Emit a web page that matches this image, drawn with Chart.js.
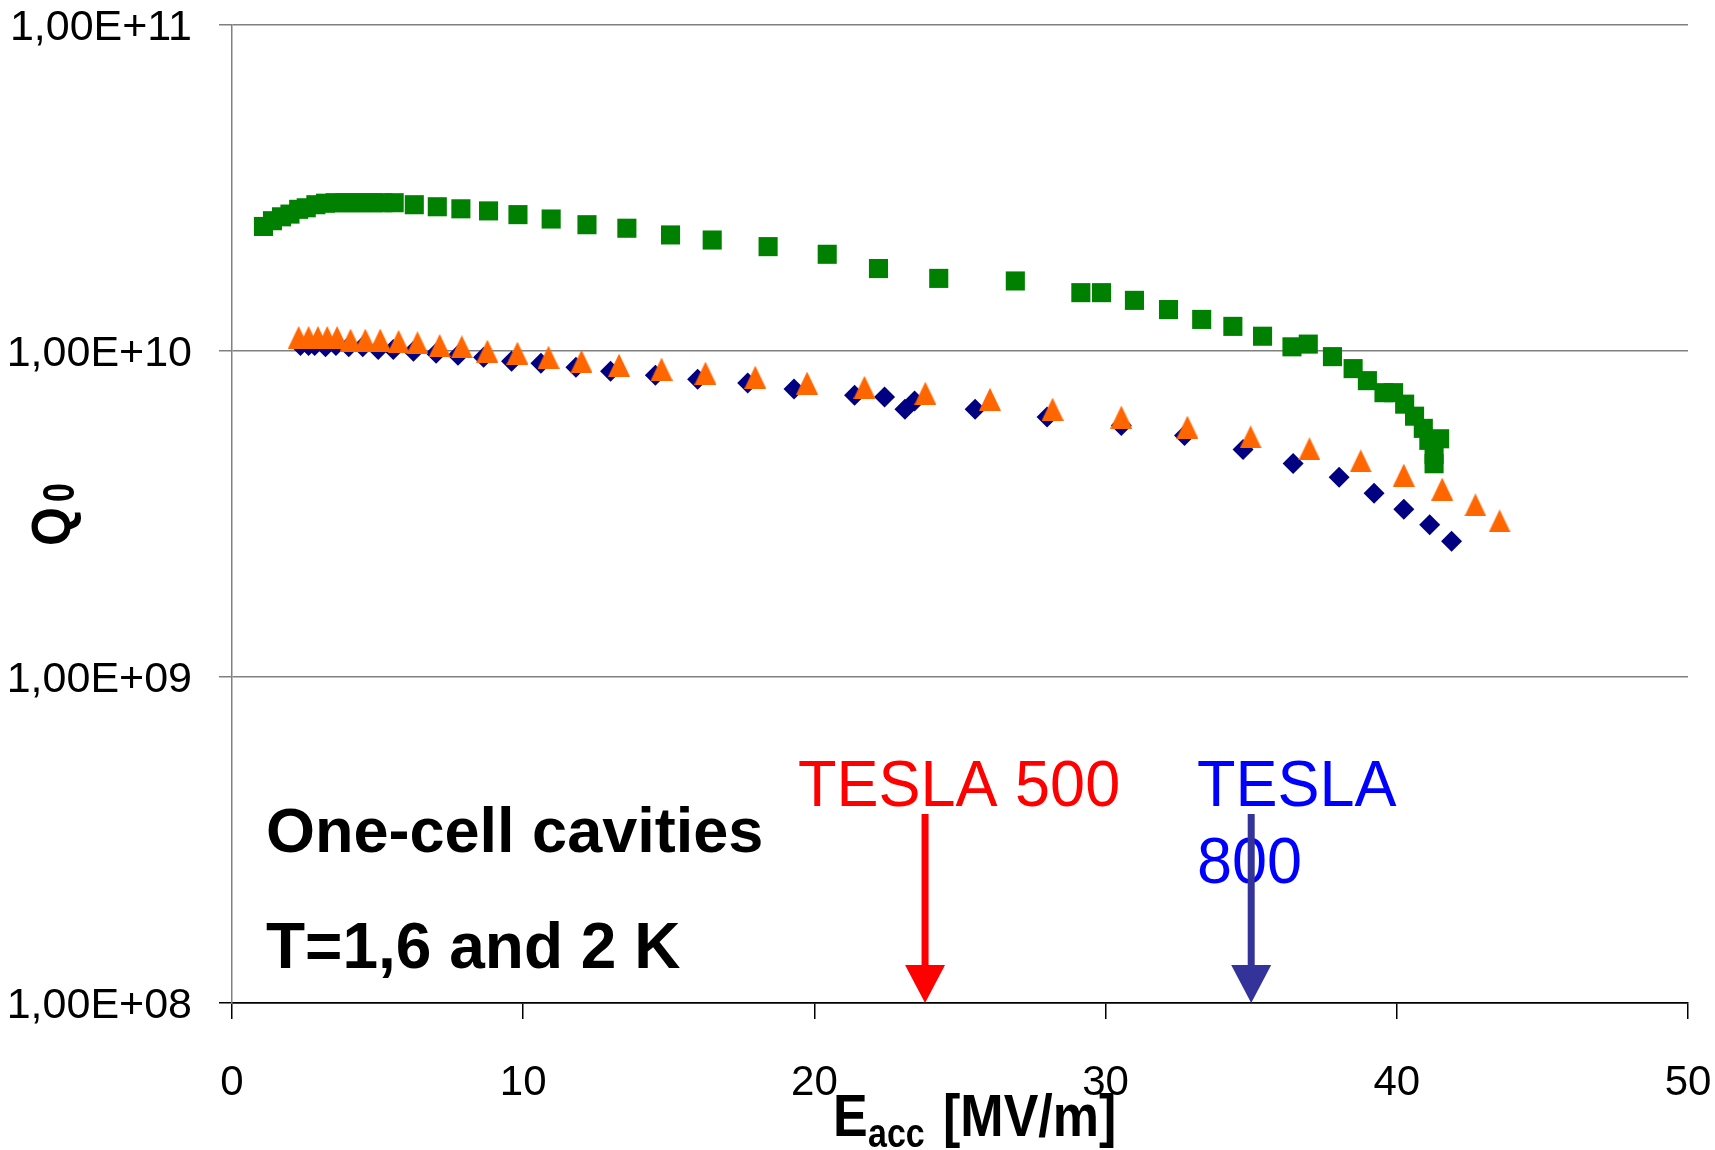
<!DOCTYPE html>
<html>
<head>
<meta charset="utf-8">
<title>Q0 vs Eacc - one-cell cavities</title>
<script src="https://cdn.jsdelivr.net/npm/chart.js@4.4.0/dist/chart.umd.min.js"></script>
<style>
  body { margin: 0; background: #fff; }
  #wrap { width: 1715px; height: 1150px; }
</style>
</head>
<body>
<div id="wrap"><canvas id="q0-chart" width="1715" height="1150"></canvas></div>
<script>
// values (Eacc in MV/m, Q0 unitless)
const greenEacc = [1.08, 1.39, 1.70, 1.99, 2.29, 2.55, 2.88, 3.21, 3.54, 3.87, 4.19, 4.52, 4.85, 5.18, 5.57,
  6.26, 7.05, 7.86, 8.81, 9.82, 10.96, 12.19, 13.56, 15.06, 16.49, 18.41, 20.44, 22.20, 24.27, 26.90,
  29.15, 29.86, 30.99, 32.16, 33.30, 34.37, 35.39, 36.40, 36.96, 37.79, 38.50, 38.99, 39.56, 39.89,
  40.27, 40.61, 40.91, 41.10, 41.47, 41.28, 41.28];
const greenQ0 = [2.41e10, 2.51e10, 2.58e10, 2.63e10, 2.72e10, 2.75e10, 2.81e10, 2.84e10, 2.85e10, 2.85e10,
  2.85e10, 2.85e10, 2.85e10, 2.85e10, 2.85e10, 2.81e10, 2.77e10, 2.73e10, 2.69e10, 2.62e10, 2.54e10,
  2.44e10, 2.38e10, 2.27e10, 2.19e10, 2.09e10, 1.98e10, 1.79e10, 1.67e10, 1.64e10, 1.51e10, 1.51e10,
  1.43e10, 1.34e10, 1.25e10, 1.19e10, 1.11e10, 1.03e10, 1.05e10, 9.61e9, 8.83e9, 8.11e9, 7.45e9,
  7.45e9, 6.87e9, 6.31e9, 5.79e9, 5.32e9, 5.38e9, 4.81e9, 4.51e9];

const orangeEacc = [2.29, 2.63, 2.95, 3.27, 3.61, 4.07, 4.58, 5.09, 5.72, 6.37, 7.13, 7.89, 8.77, 9.80,
  10.87, 12.00, 13.29, 14.75, 16.26, 17.97, 19.75, 21.72, 23.81, 26.03, 28.18, 30.54, 32.81, 34.98,
  37.00, 38.76, 40.24, 41.56, 42.70, 43.53];
const orangeQ0 = [1.10e10, 1.10e10, 1.10e10, 1.10e10, 1.10e10, 1.08e10, 1.08e10, 1.08e10, 1.07e10, 1.06e10,
  1.04e10, 1.03e10, 9.99e9, 9.85e9, 9.57e9, 9.30e9, 9.05e9, 8.80e9, 8.55e9, 8.31e9, 7.97e9, 7.74e9,
  7.42e9, 7.11e9, 6.63e9, 6.27e9, 5.84e9, 5.45e9, 5.01e9, 4.60e9, 4.16e9, 3.77e9, 3.37e9, 3.01e9];

const blueEacc = [2.35, 2.63, 2.84, 3.21, 3.57, 4.01, 4.49, 5.02, 5.54, 6.23, 7.01, 7.76, 8.64, 9.60,
  10.61, 11.81, 13.00, 14.54, 15.99, 17.71, 19.30, 21.38, 22.41, 23.11, 23.44, 25.52, 27.99, 30.54,
  32.71, 34.72, 36.44, 38.02, 39.22, 40.24, 41.13, 41.88];
const blueQ0 = [1.04e10, 1.04e10, 1.04e10, 1.03e10, 1.04e10, 1.03e10, 1.03e10, 1.01e10, 1.01e10, 9.99e9,
  9.85e9, 9.71e9, 9.57e9, 9.30e9, 9.17e9, 8.92e9, 8.67e9, 8.43e9, 8.19e9, 7.97e9, 7.64e9, 7.32e9,
  7.22e9, 6.63e9, 7.02e9, 6.63e9, 6.27e9, 5.91e9, 5.51e9, 4.99e9, 4.52e9, 4.10e9, 3.66e9, 3.27e9,
  2.93e9, 2.61e9];

const yTicks = [1e8, 1e9, 1e10, 1e11];
const yTickLabels = ['1,00E+08', '1,00E+09', '1,00E+10', '1,00E+11'];
const xTicks = [0, 10, 20, 30, 40, 50];

// TESLA design gradients marked with arrows
const teslaEacc = [23.8, 35];
const arrowTopQ0 = 3.8e8;

const FONT = '"Liberation Sans", Arial, sans-serif';

function toPoints(xs, ys) {
  return xs.map((x, i) => ({ x: x, y: ys[i] }));
}

// Excel-like triangle marker (a bit narrower than chart.js's equilateral one)
function triangleMarker(w, h, color) {
  const c = document.createElement('canvas');
  c.width = w;
  c.height = h;
  const g = c.getContext('2d');
  g.fillStyle = color;
  g.beginPath();
  g.moveTo(w / 2, 0);
  g.lineTo(w, h);
  g.lineTo(0, h);
  g.closePath();
  g.fill();
  return c;
}

function stretchedText(ctx, txt, x, y, font, color, sy) {
  ctx.save();
  ctx.font = font;
  ctx.fillStyle = color;
  ctx.translate(x, y);
  ctx.scale(1, sy || 1);
  ctx.fillText(txt, 0, 0);
  ctx.restore();
}

const overlay = {
  id: 'overlay',
  afterDraw(chart) {
    const ctx = chart.ctx;
    const xs = chart.scales.x;
    const ys = chart.scales.y;
    ctx.save();
    ctx.textAlign = 'left';
    ctx.textBaseline = 'alphabetic';

    // axis titles
    stretchedText(ctx, 'E', 833, 1136, 'bold 52px ' + FONT, '#000', 1.15);
    stretchedText(ctx, 'acc', 868, 1147, 'bold 34px ' + FONT, '#000', 1.2);
    stretchedText(ctx, '[MV/m]', 943, 1136, 'bold 52px ' + FONT, '#000', 1.15);

    ctx.save();
    ctx.translate(70, 546);
    ctx.rotate(-Math.PI / 2);
    stretchedText(ctx, 'Q', 0, 0, 'bold 50px ' + FONT, '#000', 1.1);
    stretchedText(ctx, '0', 44, 4, 'bold 34px ' + FONT, '#000', 1.3);
    ctx.restore();

    // notes
    stretchedText(ctx, 'One-cell cavities', 266, 852, 'bold 63px ' + FONT, '#000', 1);
    stretchedText(ctx, 'T=1,6 and 2 K', 266, 968, 'bold 64px ' + FONT, '#000', 1.02);
    stretchedText(ctx, 'TESLA 500', 798, 806, '63px ' + FONT, '#ff0000', 1.03);
    stretchedText(ctx, 'TESLA', 1197, 806, '63px ' + FONT, '#0000ff', 1.03);
    stretchedText(ctx, '800', 1197, 883, '63px ' + FONT, '#0000ff', 1.03);

    // arrows
    const arrowColors = ['#ff0000', '#333399'];
    teslaEacc.forEach((e, i) => {
      const px = xs.getPixelForValue(e);
      const top = ys.getPixelForValue(arrowTopQ0);
      const tip = ys.getPixelForValue(yTicks[0]);
      const headLen = 38;
      ctx.strokeStyle = arrowColors[i];
      ctx.fillStyle = arrowColors[i];
      ctx.lineWidth = 7;
      ctx.beginPath();
      ctx.moveTo(px, top);
      ctx.lineTo(px, tip - headLen + 2);
      ctx.stroke();
      ctx.beginPath();
      ctx.moveTo(px - 20, tip - headLen);
      ctx.lineTo(px + 20, tip - headLen);
      ctx.lineTo(px, tip);
      ctx.closePath();
      ctx.fill();
    });
    ctx.restore();
  }
};

const chart = new Chart(document.getElementById('q0-chart'), {
  type: 'scatter',
  data: {
    datasets: [
      {
        label: 'orange',
        data: toPoints(orangeEacc, orangeQ0),
        pointStyle: triangleMarker(22, 23, '#ff6600'),
        backgroundColor: '#ff6600'
      },
      {
        label: 'navy',
        data: toPoints(blueEacc, blueQ0),
        pointStyle: 'rectRot',
        pointRadius: 10.5,
        pointBorderWidth: 0,
        backgroundColor: '#000080',
        borderColor: '#000080'
      },
      {
        label: 'green',
        data: toPoints(greenEacc, greenQ0),
        pointStyle: 'rect',
        pointRadius: 13.5,
        pointBorderWidth: 0,
        backgroundColor: '#008000',
        borderColor: '#008000'
      }
    ]
  },
  options: {
    responsive: false,
    animation: false,
    devicePixelRatio: 1,
    layout: { padding: { top: 25, right: 27, left: 0, bottom: 0 } },
    plugins: {
      legend: { display: false },
      tooltip: { enabled: false }
    },
    scales: {
      x: {
        type: 'linear',
        min: 0,
        max: 50,
        afterBuildTicks: s => { s.ticks = xTicks.map(v => ({ value: v })); },
        afterFit: s => {
          s.height = 147;
          s.paddingLeft = 0;
          s.paddingRight = 0;
        },
        ticks: {
          color: '#000',
          padding: 43,
          font: { family: FONT, size: 42, lineHeight: 1 },
          maxRotation: 0
        },
        grid: { drawOnChartArea: false, tickLength: 16, color: '#000', lineWidth: 1.5 },
        border: { color: '#000', width: 1.5 }
      },
      y: {
        type: 'logarithmic',
        min: 1e8,
        max: 1e11,
        afterBuildTicks: s => { s.ticks = yTicks.map(v => ({ value: v })); },
        afterFit: s => {
          s.width = 232;
          s.paddingTop = 0;
          s.paddingBottom = 0;
        },
        ticks: {
          color: '#000',
          padding: 27,
          labelOffset: 3,
          font: { family: FONT, size: 43, lineHeight: 1 },
          callback: (v, i) => yTickLabels[i]
        },
        grid: {
          tickLength: 13,
          lineWidth: 1.5,
          color: c => (c.tick && c.tick.value === yTicks[0] ? '#000' : '#808080')
        },
        border: { color: '#808080', width: 1.5 }
      }
    }
  },
  plugins: [overlay]
});
</script>
</body>
</html>
